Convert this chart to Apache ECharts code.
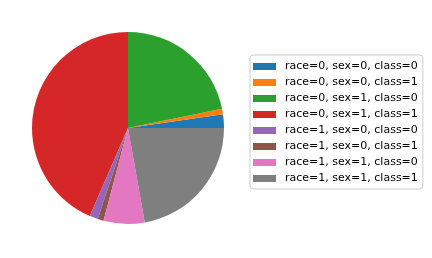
<!DOCTYPE html>
<html><head><meta charset="utf-8">
<script src="https://cdn.jsdelivr.net/npm/echarts@6/dist/echarts.min.js"></script>
<style>html,body{margin:0;padding:0;background:#fff}#c{width:432px;height:258px}</style>
</head><body><div id="c"></div>
<script>
var categories = ["race=0, sex=0, class=0","race=0, sex=0, class=1","race=0, sex=1, class=0","race=0, sex=1, class=1","race=1, sex=0, class=0","race=1, sex=0, class=1","race=1, sex=1, class=0","race=1, sex=1, class=1"];
var values = [2.3, 0.9, 21.8, 43.5, 1.4, 1.0, 6.9, 22.2];
var colors = ["#1f77b4","#ff7f0e","#2ca02c","#d62728","#9467bd","#8c564b","#e377c2","#7f7f7f"];
var chart = echarts.init(document.getElementById('c'), null, {renderer:'canvas'});
chart.setOption({
  animation:false,
  color: colors,
  legend:{
    orient:'vertical', left:250, top:55,
    padding:[6,5,5,3],
    itemWidth:23, itemHeight:7, itemGap:5,
    icon:'rect',
    borderColor:'#cccccc', borderWidth:1, borderRadius:3,
    textStyle:{fontFamily:'DejaVu Sans', fontSize:11, color:'#000', padding:[0,0,0,4]},
    data: categories
  },
  series:[{
    type:'pie', center:[128,128], radius:96,
    startAngle:0, clockwise:false,
    label:{show:false}, labelLine:{show:false},
    itemStyle:{borderWidth:0},
    emphasis:{disabled:true},
    data: categories.map(function(n,i){return {name:n, value:values[i]};})
  }]
});
</script></body></html>
